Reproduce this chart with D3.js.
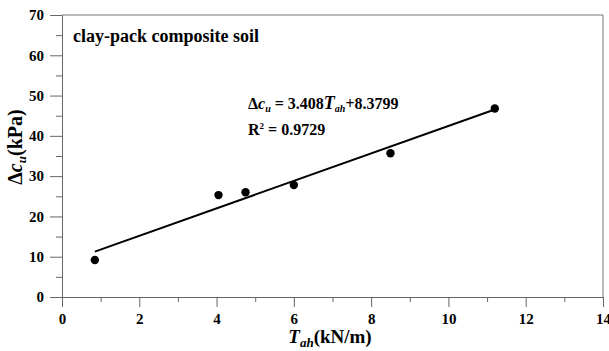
<!DOCTYPE html>
<html>
<head>
<meta charset="utf-8">
<script src="https://cdn.jsdelivr.net/npm/d3@7"></script>
<style>
  body { margin: 0; background: #fff; }
  .axis path, .axis line { stroke: #666; }
</style>
</head>
<body>
<svg id="chart"></svg>
<script>
// data
var tah = [0.85, 4.05, 4.75, 6.0, 8.5, 11.2];
var dcu = [9.2, 25.3, 26.0, 27.8, 35.7, 46.8];
var fitSlope = 3.408;
var fitIntercept = 8.3799;
var fitRange = [0.85, 11.2];
var xTicks = [0, 2, 4, 6, 8, 10, 12, 14];
var yTicks = [0, 10, 20, 30, 40, 50, 60, 70];

const FONT = '"Liberation Serif", "DejaVu Serif", "Times New Roman", serif';
const W = 609, H = 351;
const M = { top: 15, right: 6, bottom: 54, left: 62 };
const PW = W - M.left - M.right, PH = H - M.top - M.bottom;

var svg = d3.select('#chart').attr('width', W).attr('height', H);
var g = svg.append('g').attr('transform', 'translate(' + M.left + ',' + M.top + ')');

var x = d3.scaleLinear().domain([0, 14]).range([0, PW]);
var y = d3.scaleLinear().domain([0, 70]).range([PH, 0]);

// frame top + right
g.append('path')
  .attr('d', 'M0,0H' + PW + 'V' + PH)
  .attr('fill', 'none').attr('stroke', '#777').attr('stroke-width', 1);

// minor ticks
g.append('g').attr('class', 'axis')
  .attr('transform', 'translate(0,' + PH + ')')
  .call(d3.axisBottom(x).tickValues(d3.range(1, 14, 2)).tickSize(5).tickFormat(''))
  .select('.domain').remove();
g.append('g').attr('class', 'axis')
  .call(d3.axisLeft(y).tickValues(d3.range(5, 70, 10)).tickSize(6).tickFormat(''))
  .select('.domain').remove();

// major axes
var xa = g.append('g').attr('class', 'axis')
  .attr('transform', 'translate(0,' + PH + ')')
  .call(d3.axisBottom(x).tickValues(xTicks).tickSize(10).tickSizeOuter(0).tickFormat(d3.format('d')));
xa.selectAll('text').attr('y', 16);

var ya = g.append('g').attr('class', 'axis')
  .call(d3.axisLeft(y).tickValues(yTicks).tickSize(12).tickSizeOuter(0).tickFormat(d3.format('d')));
ya.selectAll('text').attr('x', -18);

svg.selectAll('.axis text')
  .style('font-family', FONT).style('font-weight', 'bold')
  .style('font-size', '15px').style('fill', '#000');

// fit line
var line = d3.line()
  .x(function (d) { return x(d); })
  .y(function (d) { return y(fitSlope * d + fitIntercept); });
g.append('path')
  .datum(fitRange)
  .attr('d', line)
  .attr('fill', 'none').attr('stroke', '#000').attr('stroke-width', 2);

// points
g.selectAll('circle')
  .data(tah)
  .enter()
  .append('circle')
  .attr('cx', function (d) { return x(d); })
  .attr('cy', function (d, i) { return y(dcu[i]); })
  .attr('r', 4.2)
  .attr('fill', '#000');

function label(sel) {
  return sel.style('font-family', FONT).style('font-weight', 'bold').style('fill', '#000');
}

// labels
label(g.append('text'))
  .attr('x', 11).attr('y', 27)
  .style('font-size', '18px')
  .text('clay-pack composite soil');

var eq = label(g.append('text')).attr('x', 186).attr('y', 94).style('font-size', '16px');
eq.append('tspan').text('Δ');
eq.append('tspan').style('font-style', 'italic').text('c');
eq.append('tspan').style('font-style', 'italic').style('font-size', '10px').attr('dy', 3).text('u');
eq.append('tspan').attr('dy', -3).text(' = 3.408');
eq.append('tspan').style('font-style', 'italic').style('font-size', '18px').text('T');
eq.append('tspan').style('font-style', 'italic').style('font-size', '10px').attr('dy', 3).text('ah');
eq.append('tspan').attr('dy', -3).text('+8.3799');

var r2 = label(g.append('text')).attr('x', 186).attr('y', 120).style('font-size', '16px');
r2.append('tspan').text('R');
r2.append('tspan').style('font-size', '9px').attr('dy', -6).text('2');
r2.append('tspan').attr('dy', 6).text(' = 0.9729');

// axis titles
var xt = label(svg.append('text'))
  .attr('x', 330).attr('y', 343)
  .attr('text-anchor', 'middle')
  .style('font-size', '19px');
xt.append('tspan').style('font-style', 'italic').text('T');
xt.append('tspan').style('font-style', 'italic').style('font-size', '13px').attr('dy', 4).text('ah');
xt.append('tspan').attr('dy', -4).text('(kN/m)');

var yt = label(svg.append('text'))
  .attr('transform', 'translate(22,147) rotate(-90)')
  .attr('text-anchor', 'middle')
  .style('font-size', '20px');
yt.append('tspan').text('Δ');
yt.append('tspan').style('font-style', 'italic').text('c');
yt.append('tspan').style('font-style', 'italic').style('font-size', '13px').attr('dy', 4).text('u');
yt.append('tspan').attr('dy', -4).text('(kPa)');
</script>
</body>
</html>
